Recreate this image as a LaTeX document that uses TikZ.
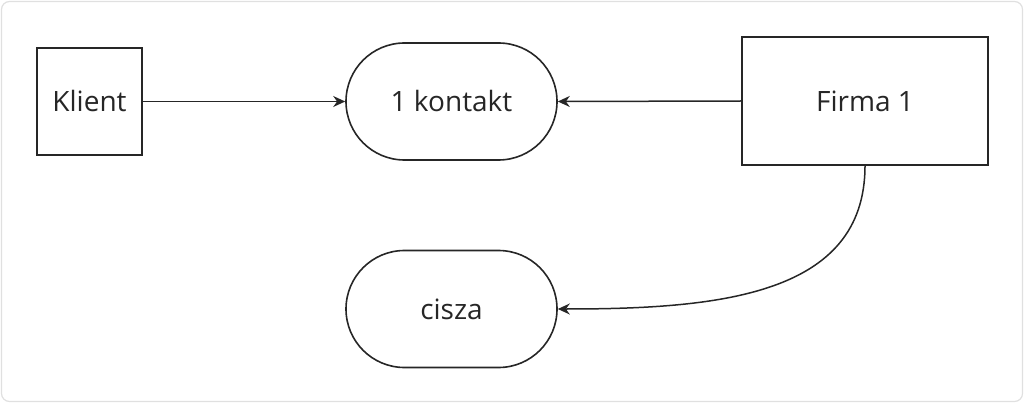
\documentclass[tikz,border=0pt]{standalone}
\usepackage{fontspec}
\setmainfont{Open Sans}
\usetikzlibrary{arrows.meta,shapes.misc}
\begin{document}
\begin{tikzpicture}[x=1pt,y=-1pt,
  box/.style={draw=black!85,line width=1.6pt,rectangle,inner sep=0pt,font=\fontsize{28}{32}\selectfont,text=black!85},
  stad/.style={draw=black!85,line width=1.6pt,rounded rectangle,inner sep=0pt,minimum width=211pt,minimum height=117pt,font=\fontsize{28}{32}\selectfont,text=black!85},
  con/.style={draw=black!85,line width=1.5pt,-{Stealth[length=12pt,width=11pt]}}]
\useasboundingbox (0,0) rectangle (1024,403);
\draw[black!12,line width=1.2pt,rounded corners=8pt] (1.5,1.5) rectangle (1022.5,401.5);
\node[box,minimum width=105pt,minimum height=107pt] (k) at (89.5,101.5) {Klient};
\node[stad] (c) at (451.5,101.5) {1 kontakt};
\node[box,minimum width=246pt,minimum height=128pt] (f) at (865,101) {Firma 1};
\node[stad] (s) at (451.5,309) {cisza};
\draw[con] (k.east) -- (c.east -| c.west) ;
\draw[con] (f.west) -- (c.east);
\draw[con] (f.south) .. controls ++(0,130) and ++(160,0) .. (s.east);
\end{tikzpicture}
\end{document}
